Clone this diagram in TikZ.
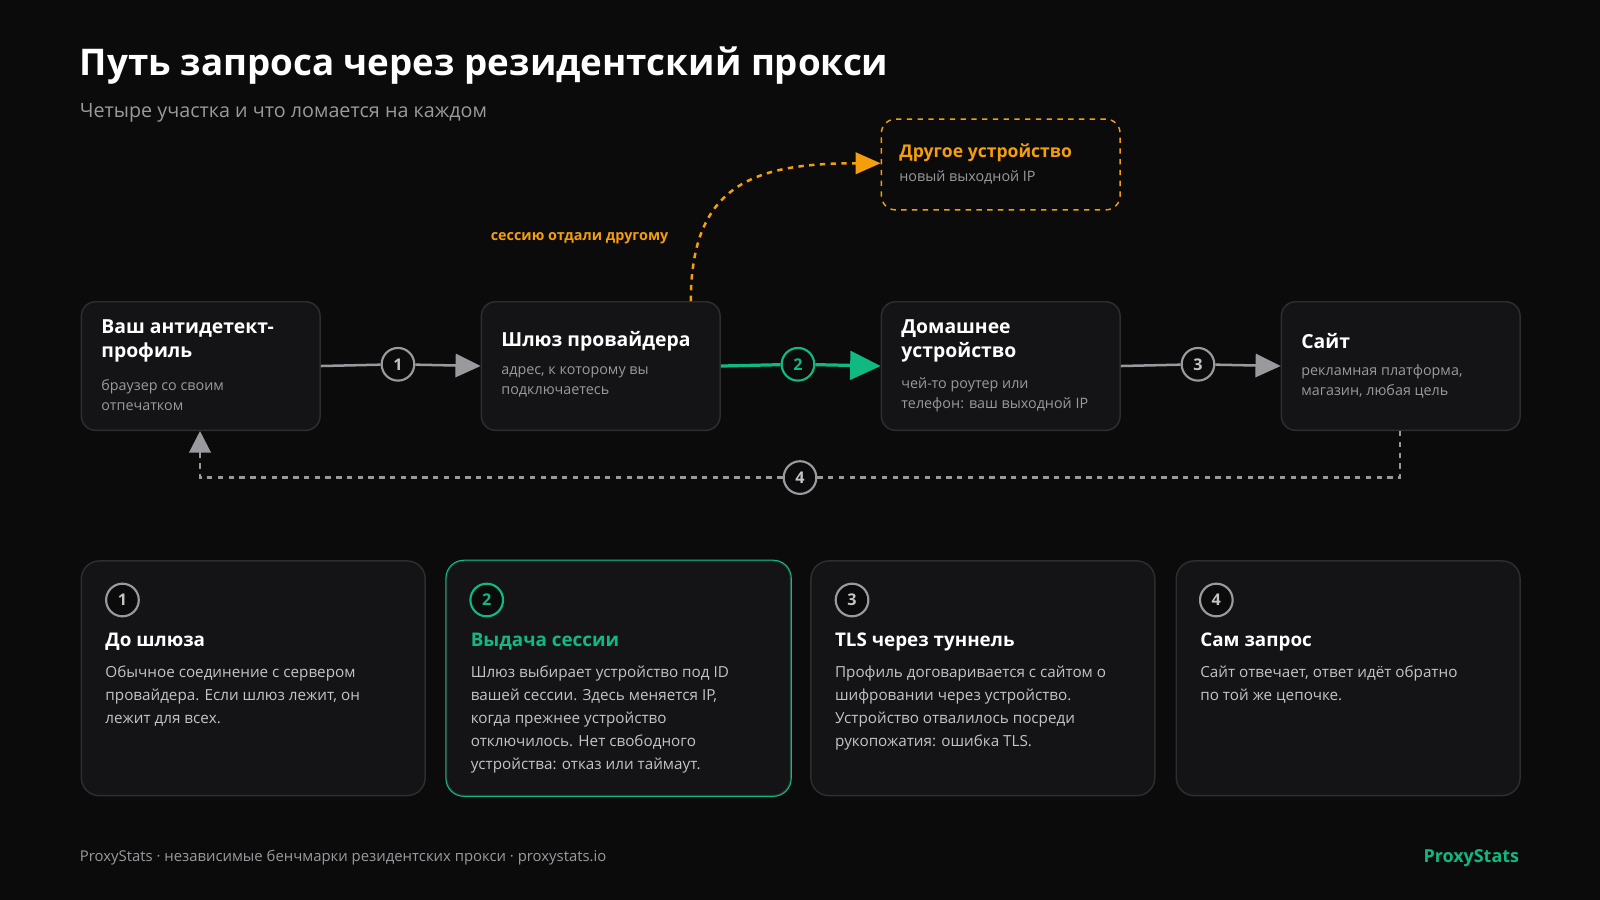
\documentclass[tikz,border=0pt]{standalone}
\usepackage{fontspec}
\setmainfont{Open Sans}
\usetikzlibrary{positioning,arrows.meta}
\definecolor{bg}{HTML}{0B0B0C}
\definecolor{boxfill}{HTML}{141416}
\definecolor{boxline}{HTML}{2E2E31}
\definecolor{txtgray}{HTML}{9A9A9E}
\definecolor{bodygray}{HTML}{C4C4C8}
\definecolor{accgreen}{HTML}{10B981}
\definecolor{accorange}{HTML}{F59E0B}
\newcommand{\fs}[2]{\fontsize{#1}{#2}\selectfont}
\tikzset{
  stage/.style={draw=boxline, fill=boxfill, rounded corners=8, line width=0.8pt, minimum width=234*0.02cm, minimum height=126*0.02cm, anchor=north west, inner sep=0},
  card/.style={draw=boxline, fill=boxfill, rounded corners=10, line width=0.8pt, minimum width=337*0.02cm, minimum height=230*0.02cm, anchor=north west, inner sep=0},
  stitle/.style={anchor=west, text=white, font=\bfseries\fs{10.8}{13.6}, align=left, inner sep=0},
  ssub/.style={anchor=west, text=txtgray, font=\fs{8}{11}, align=left, inner sep=0},
  num/.style={circle, draw=txtgray, line width=1.2pt, fill=bg, text=bodygray, font=\bfseries\fs{9}{10}, minimum size=32*0.02cm, inner sep=0},
  flow/.style={draw=txtgray, line width=1.4pt},
  ctitle/.style={anchor=west, text=white, font=\bfseries\fs{10.5}{13}, inner sep=0},
  cbody/.style={anchor=north west, text=bodygray, font=\fs{8.5}{12.8}, align=left, inner sep=0},
}
\begin{document}
\begin{tikzpicture}[x=0.02cm, y=-0.02cm]
\fill[bg] (0,0) rectangle (1568,882);
\useasboundingbox (0,0) rectangle (1568,882);

% Heading
\node[anchor=west, text=white, font=\bfseries\fs{20.5}{24}, inner sep=0] (title) at (78,64) {Путь запроса через резидентский прокси};
\node[anchor=west, text=txtgray, font=\fs{11}{13}, inner sep=0] (subtitle) at (78,111) {Четыре участка и что ломается на каждом};

% Stages
\node[stage] (profile) at (79,295) {};
\node[stage] (gateway) at (471,295) {};
\node[stage] (device) at (863,295) {};
\node[stage] (site) at (1255,295) {};

\node[stitle] at (99,334) {Ваш антидетект-\\профиль};
\node[ssub] at (99,387) {браузер со своим\\отпечатком};
\node[stitle] at (491,334) {Шлюз провайдера};
\node[ssub] at (491,374) {адрес, к которому вы\\подключаетесь};
\node[stitle] at (883,334) {Домашнее\\устройство};
\node[ssub] at (883,387) {чей-то роутер или\\телефон: ваш выходной IP};
\node[stitle] at (1275,334) {Сайт};
\node[ssub] at (1275,374) {рекламная платформа,\\магазин, любая цель};

% Other device
\node[draw=accorange, dashed, rounded corners=8, line width=0.8pt, minimum width=234*0.02cm, minimum height=89*0.02cm, anchor=north west, inner sep=0] (other) at (863,116) {};
\node[anchor=west, text=accorange, font=\bfseries\fs{9.8}{12}, inner sep=0] at (881,150) {Другое устройство};
\node[anchor=west, text=txtgray, font=\fs{8}{10}, inner sep=0] at (881,174) {новый выходной IP};
\draw[accorange, dashed, line width=1.4pt, -{Triangle[length=14pt,width=12pt]}] (677,295) .. controls (677,180) and (740,160) .. (other.west |- 0,160);
\node[text=accorange, font=\bfseries\fs{8}{10}, inner sep=0] (handoff) at (568,233) {сессию отдали другому};

% Flow
\node[num] (n1) at (390,357) {1};
\node[num, draw=accgreen, text=accgreen] (n2) at (782,357) {2};
\node[num] (n3) at (1174,357) {3};
\node[num] (n4) at (784,468) {4};
\draw[flow] (profile.east) -- (n1);
\draw[flow, -{Triangle[length=14pt,width=13pt]}] (n1) -- (gateway.west);
\draw[flow, draw=accgreen, line width=1.8pt] (gateway.east) -- (n2);
\draw[flow, draw=accgreen, line width=1.8pt, -{Triangle[length=17pt,width=16pt]}, accgreen] (n2) -- (device.west);
\draw[flow] (device.east) -- (n3);
\draw[flow, -{Triangle[length=14pt,width=13pt]}] (n3) -- (site.west);
\coordinate (ret) at (1372,468);
\coordinate (back) at (196,468);
\draw[flow, dashed, line width=1.2pt] (site.south -| ret) -- (ret) -- (n4);
\draw[flow, dashed, line width=1.2pt, -{Triangle[length=12pt,width=12pt]}] (n4) -- (back) -- (profile.south -| back);

% Cards
\foreach \cx/\nm in {79/c1,437/c2,794/c3,1152/c4}
  \node[card] (\nm) at (\cx,549) {};
\draw[accgreen, rounded corners=10, line width=0.6pt] (c2.north west) rectangle (c2.south east);

\node[num] at (120,588) {1};
\node[ctitle] at (103,629) {До шлюза};
\node[cbody] at (103,652) {Обычное соединение с сервером\\провайдера. Если шлюз лежит, он\\лежит для всех.};

\node[num, draw=accgreen, text=accgreen] at (477,588) {2};
\node[ctitle, text=accgreen] at (461,629) {Выдача сессии};
\node[cbody] at (461,652) {Шлюз выбирает устройство под ID\\вашей сессии. Здесь меняется IP,\\когда прежнее устройство\\отключилось. Нет свободного\\устройства: отказ или таймаут.};

\node[num] at (835,588) {3};
\node[ctitle] at (818,629) {TLS через туннель};
\node[cbody] at (818,652) {Профиль договаривается с сайтом о\\шифровании через устройство.\\Устройство отвалилось посреди\\рукопожатия: ошибка TLS.};

\node[num] at (1192,588) {4};
\node[ctitle] at (1176,629) {Сам запрос};
\node[cbody] at (1176,652) {Сайт отвечает, ответ идёт обратно\\по той же цепочке.};

% Footer
\node[anchor=west, text=txtgray, font=\fs{8.3}{10}, inner sep=0] (foot) at (78,840) {ProxyStats · независимые бенчмарки резидентских прокси · proxystats.io};
\node[anchor=east, text=accgreen, font=\bfseries\fs{10}{12}, inner sep=0] (brand) at (1489,841) {ProxyStats};
\end{tikzpicture}
\end{document}
